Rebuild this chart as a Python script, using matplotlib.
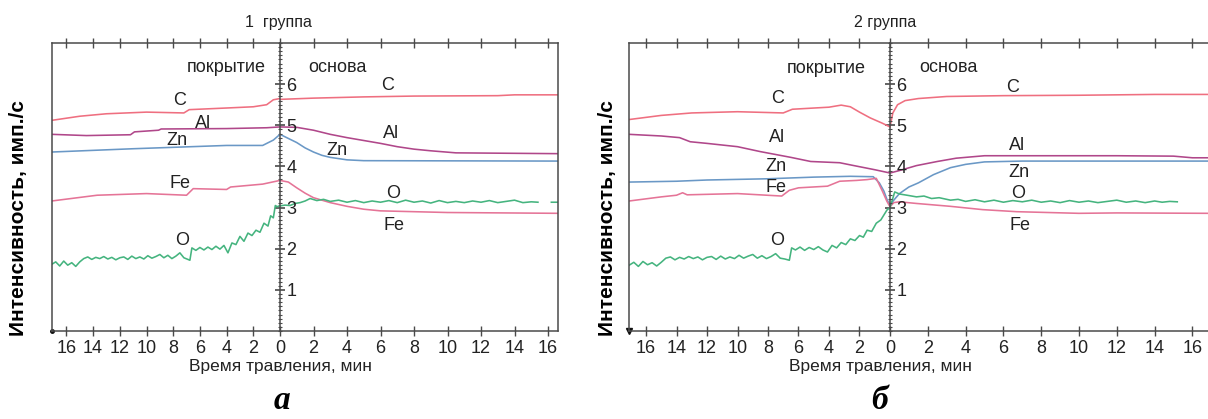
import numpy as np
import matplotlib
matplotlib.use('Agg')
import matplotlib.pyplot as plt
from matplotlib.ticker import MultipleLocator, FixedLocator

plt.rcParams['font.family'] = ['Liberation Sans Narrow', 'Liberation Sans', 'DejaVu Sans']

# ---------------- данные: группа 1 (а) ----------------
# покрытие: время до границы, мин (откладывается влево)
a_C_ct = [17.1, 15.0, 13.0, 10.0, 7.2, 6.8, 4.0, 2.0, 1.0, 0.5, 0.0]
a_C_c = [5.12, 5.22, 5.28, 5.32, 5.30, 5.38, 5.42, 5.45, 5.50, 5.62, 5.65]
a_C_bt = [0.0, 2.0, 5.0, 8.0, 13.0, 14.0, 16.7]
a_C_b = [5.63, 5.66, 5.69, 5.71, 5.72, 5.74, 5.74]

a_Al_ct = [17.1, 14.5, 11.2, 10.9, 9.1, 8.9, 4.0, 1.0, 0.0]
a_Al_c = [4.78, 4.75, 4.77, 4.84, 4.88, 4.91, 4.92, 4.94, 4.96]
a_Al_bt = [0.0, 1.0, 2.0, 3.0, 4.0, 5.0, 6.0, 7.0, 8.0, 9.0, 10.5, 16.7]
a_Al_b = [4.96, 4.95, 4.88, 4.78, 4.70, 4.63, 4.56, 4.48, 4.42, 4.38, 4.33, 4.31]

a_Zn_ct = [17.1, 11.0, 4.0, 1.3, 0.5, 0.0]
a_Zn_c = [4.35, 4.43, 4.51, 4.51, 4.64, 4.78]
a_Zn_bt = [0.0, 0.5, 1.0, 1.5, 2.0, 2.5, 3.0, 4.0, 5.0, 16.7]
a_Zn_b = [4.78, 4.68, 4.58, 4.45, 4.35, 4.27, 4.22, 4.16, 4.14, 4.13]

a_Fe_ct = [17.1, 13.7, 10.0, 7.0, 6.5, 4.0, 3.7, 1.3, 0.0]
a_Fe_c = [3.16, 3.30, 3.34, 3.30, 3.46, 3.44, 3.50, 3.57, 3.66]
a_Fe_bt = [0.0, 0.5, 1.0, 1.5, 2.0, 3.0, 4.0, 5.0, 6.0, 8.0, 10.0, 16.7]
a_Fe_b = [3.66, 3.62, 3.48, 3.35, 3.24, 3.12, 3.03, 2.96, 2.92, 2.90, 2.88, 2.86]

a_O_ct = [17.1, 16.8, 16.5, 16.2, 15.9, 15.6, 15.3, 15.0, 14.7, 14.4, 14.1, 13.8,
          13.5, 13.2, 12.9, 12.6, 12.3, 12.0, 11.7, 11.4, 11.1, 10.8, 10.5, 10.2,
          9.9, 9.6, 9.3, 9.0, 8.7, 8.4, 8.1, 7.8, 7.5, 7.2, 6.9, 6.75, 6.6, 6.3,
          6.0, 5.7, 5.4, 5.1, 4.8, 4.5, 4.2, 3.9, 3.6, 3.3, 3.0, 2.7, 2.4, 2.1,
          1.8, 1.5, 1.2, 0.9, 0.7, 0.5, 0.35, 0.2, 0.0]
a_O_c = [1.62, 1.68, 1.58, 1.70, 1.60, 1.66, 1.57, 1.68, 1.76, 1.80, 1.74, 1.79,
         1.76, 1.81, 1.75, 1.79, 1.73, 1.78, 1.80, 1.74, 1.82, 1.76, 1.80, 1.75,
         1.83, 1.77, 1.81, 1.86, 1.78, 1.84, 1.76, 1.82, 1.90, 1.78, 1.74, 1.72, 2.02, 1.96,
         2.03, 1.97, 2.04, 1.98, 2.06, 1.99, 2.08, 1.90, 2.14, 2.10, 2.30, 2.18, 2.38, 2.32,
         2.45, 2.40, 2.62, 2.55, 2.80, 2.75, 3.05, 3.02, 3.05]
a_O_bt = [0.0, 0.3, 0.6, 0.9, 1.2, 1.5, 1.8, 2.2, 2.6, 3.0, 3.5, 4.0, 4.5, 5.0, 5.5,
          6.0, 6.5, 7.0, 7.5, 8.0, 8.5, 9.0, 9.5, 10.0, 10.5, 11.0, 11.5, 12.0, 12.5,
          13.0, 13.5, 14.0, 14.5, 15.0, 15.4, 15.7, 16.2, 16.6]
a_O_b = [3.04, 3.06, 3.05, 3.10, 3.12, 3.16, 3.22, 3.17, 3.20, 3.15, 3.18, 3.13, 3.17,
         3.12, 3.16, 3.13, 3.17, 3.12, 3.18, 3.13, 3.16, 3.11, 3.17, 3.12, 3.15, 3.12,
         3.16, 3.13, 3.17, 3.12, 3.15, 3.18, 3.12, 3.14, 3.13, np.nan, 3.13, 3.13]

# ---------------- данные: группа 2 (б) ----------------
b_C_ct = [17.1, 15.0, 13.0, 10.0, 7.0, 6.4, 4.0, 3.2, 2.6, 2.0, 1.3, 0.5, 0.0]
b_C_c = [5.14, 5.24, 5.30, 5.33, 5.30, 5.39, 5.44, 5.49, 5.45, 5.32, 5.18, 5.05, 4.96]
b_C_bt = [0.0, 0.15, 0.4, 0.8, 1.5, 3.0, 6.0, 10.0, 14.0, 17.0]
b_C_b = [4.96, 5.30, 5.50, 5.60, 5.65, 5.70, 5.72, 5.73, 5.75, 5.75]

b_Al_ct = [17.1, 15.0, 13.8, 13.1, 12.0, 10.0, 8.5, 6.5, 5.2, 3.3, 2.5, 1.0, 0.0]
b_Al_c = [4.78, 4.74, 4.70, 4.60, 4.56, 4.48, 4.36, 4.22, 4.12, 4.09, 4.03, 3.92, 3.84]
b_Al_bt = [0.0, 0.5, 1.4, 2.5, 3.5, 5.0, 8.0, 12.0, 15.0, 16.0, 17.0]
b_Al_b = [3.84, 3.90, 4.02, 4.12, 4.20, 4.26, 4.26, 4.26, 4.25, 4.21, 4.21]

b_Zn_ct = [17.1, 14.0, 12.0, 8.0, 5.0, 2.6, 1.1, 0.7, 0.4, 0.2, 0.0]
b_Zn_c = [3.62, 3.64, 3.67, 3.70, 3.74, 3.76, 3.75, 3.60, 3.40, 3.20, 3.05]
b_Zn_bt = [0.0, 0.2, 0.5, 1.0, 1.5, 2.3, 3.2, 4.0, 5.0, 7.0, 17.0]
b_Zn_b = [3.05, 3.18, 3.34, 3.50, 3.60, 3.80, 3.97, 4.05, 4.11, 4.13, 4.13]

b_Fe_ct = [17.1, 15.0, 14.0, 13.6, 13.3, 10.0, 7.1, 6.6, 6.0, 4.1, 3.3, 2.2, 1.5, 0.9, 0.5, 0.2, 0.0]
b_Fe_c = [3.16, 3.26, 3.30, 3.36, 3.31, 3.34, 3.28, 3.42, 3.48, 3.52, 3.64, 3.66, 3.68, 3.71, 3.40, 3.15, 3.02]
b_Fe_bt = [0.0, 0.2, 0.5, 1.4, 3.2, 4.9, 6.7, 10.0, 12.0, 17.0]
b_Fe_b = [3.02, 3.12, 3.14, 3.10, 3.03, 2.95, 2.90, 2.86, 2.87, 2.86]

b_O_ct = [17.1, 16.8, 16.5, 16.2, 15.9, 15.6, 15.3, 15.0, 14.7, 14.4, 14.1, 13.8,
          13.5, 13.2, 12.9, 12.6, 12.3, 12.0, 11.7, 11.4, 11.1, 10.8, 10.5, 10.2,
          9.9, 9.6, 9.3, 9.0, 8.7, 8.4, 8.1, 7.8, 7.5, 7.2, 6.9, 6.6, 6.45, 6.2,
          5.9, 5.6, 5.3, 5.0, 4.7, 4.4, 4.1, 3.8, 3.5, 3.2, 2.9, 2.6, 2.3, 2.0,
          1.75, 1.5, 1.2, 0.9, 0.6, 0.4, 0.2, 0.0]
b_O_c = [1.60, 1.67, 1.57, 1.69, 1.61, 1.66, 1.58, 1.67, 1.77, 1.80, 1.73, 1.79,
         1.75, 1.81, 1.76, 1.80, 1.73, 1.79, 1.81, 1.74, 1.82, 1.75, 1.80, 1.76,
         1.84, 1.77, 1.82, 1.86, 1.77, 1.83, 1.76, 1.81, 1.88, 1.77, 1.75, 1.72, 2.02, 1.97,
         2.04, 1.96, 2.03, 1.98, 2.05, 1.97, 1.92, 2.08, 2.02, 2.15, 2.10, 2.24, 2.20, 2.32,
         2.28, 2.45, 2.42, 2.62, 2.70, 2.82, 2.94, 3.00]
b_O_bt = [0.0, 0.25, 0.5, 0.9, 1.4, 1.8, 2.2, 2.6, 3.2, 3.6, 4.0, 4.5, 5.0, 5.5, 6.0,
          6.5, 7.0, 7.5, 8.0, 8.5, 9.0, 9.5, 10.0, 10.5, 11.0, 11.5, 12.0, 12.5, 13.0,
          13.5, 14.0, 14.4, 14.8, 15.2, 15.5, 16.1, 16.4, 17.0]
b_O_b = [3.00, 3.38, 3.33, 3.30, 3.26, 3.28, 3.22, 3.24, 3.18, 3.20, 3.15, 3.19, 3.14,
         3.18, 3.13, 3.17, 3.14, 3.18, 3.13, 3.16, 3.12, 3.17, 3.13, 3.16, 3.12, 3.15,
         3.18, 3.13, 3.16, 3.12, 3.16, 3.13, 3.15, 3.14, np.nan, 3.13, np.nan, 3.13]

elements = ['C', 'Al', 'Zn', 'Fe', 'O']
colors = {'C': '#ef6f80', 'Al': '#b0478a', 'Zn': '#6a98c6', 'Fe': '#e57497', 'O': '#45b47f'}

# подписи кривых: (элемент, время, интенсивность)
a_labels_coat = [('C', 7.5, 5.61), ('Al', 5.8, 5.05), ('Zn', 7.7, 4.64), ('Fe', 7.5, 3.59), ('O', 7.3, 2.21)]
a_labels_base = [('C', 6.4, 5.97), ('Al', 6.6, 4.81), ('Zn', 3.4, 4.39), ('O', 6.75, 3.35), ('Fe', 6.8, 2.57)]
b_labels_coat = [('C', 7.4, 5.66), ('Al', 7.4, 4.71), ('Zn', 7.5, 4.0), ('Fe', 7.5, 3.50), ('O', 7.4, 2.21)]
b_labels_base = [('C', 6.5, 5.92), ('Al', 6.7, 4.51), ('Zn', 6.8, 3.86), ('O', 6.8, 3.35), ('Fe', 6.9, 2.57)]

W, H = 1208, 419
fig = plt.figure(figsize=(W / 100, H / 100), dpi=100)
axis_col = '#4a4a4a'


def panel(x0, xc, x1, kl, kr, d, lab_c, lab_b, right_spine=True, corner='.'):
    y0, y1 = 331, 43
    axr = fig.add_axes([xc / W, 1 - y0 / H, (x1 - xc) / W, (y0 - y1) / H])
    axl = fig.add_axes([x0 / W, 1 - y0 / H, (xc - x0) / W, (y0 - y1) / H])
    for ax in (axl, axr):
        ax.set_facecolor('none')
        ax.set_ylim(0, 7)
        for s in ax.spines.values():
            s.set_color(axis_col)
            s.set_linewidth(1.1)
        ax.tick_params(axis='x', direction='inout', length=7, width=1, colors=axis_col,
                       top=True, labeltop=False, labelsize=13, labelcolor='#222222', pad=3)
    axl.set_xlim((xc - x0) / kl, 0)
    axr.set_xlim(0, (x1 - xc) / kr)
    axl.xaxis.set_major_locator(FixedLocator(np.arange(2, 17, 2)))
    axr.xaxis.set_major_locator(FixedLocator(np.arange(0, 17, 2)))

    # центральная ось интенсивности
    axr.spines['left'].set_visible(False)
    axr.tick_params(axis='y', left=False, labelleft=False)
    if not right_spine:
        axr.spines['right'].set_visible(False)
    axl.yaxis.tick_right()
    axl.yaxis.set_major_locator(FixedLocator(range(1, 7)))
    axl.yaxis.set_minor_locator(MultipleLocator(0.1))
    axl.tick_params(axis='y', which='major', direction='inout', length=7, width=1.2,
                    colors=axis_col, labelsize=13, labelcolor='#222222', pad=1)
    axl.tick_params(axis='y', which='minor', direction='inout', length=3.5, width=0.8, colors=axis_col)

    for el in elements:
        axl.plot(d[el][0], d[el][1], color=colors[el], lw=1.15)
        axr.plot(d[el][2], d[el][3], color=colors[el], lw=1.15)
    for el, t, v in lab_c:
        axl.text(t, v, el, ha='center', va='center', fontsize=13, color='#222222')
    for el, t, v in lab_b:
        axr.text(t, v, el, ha='center', va='center', fontsize=13, color='#222222')
    axl.plot([axl.get_xlim()[0]], [0], marker=corner, color='#111111', ms=5, clip_on=False)
    return axl, axr


data_a = {'C': (a_C_ct, a_C_c, a_C_bt, a_C_b), 'Al': (a_Al_ct, a_Al_c, a_Al_bt, a_Al_b),
          'Zn': (a_Zn_ct, a_Zn_c, a_Zn_bt, a_Zn_b), 'Fe': (a_Fe_ct, a_Fe_c, a_Fe_bt, a_Fe_b),
          'O': (a_O_ct, a_O_c, a_O_bt, a_O_b)}
data_b = {'C': (b_C_ct, b_C_c, b_C_bt, b_C_b), 'Al': (b_Al_ct, b_Al_c, b_Al_bt, b_Al_b),
          'Zn': (b_Zn_ct, b_Zn_c, b_Zn_bt, b_Zn_b), 'Fe': (b_Fe_ct, b_Fe_c, b_Fe_bt, b_Fe_b),
          'O': (b_O_ct, b_O_c, b_O_bt, b_O_b)}

al, ar = panel(52, 280, 558, 13.35, 16.75, data_a, a_labels_coat, a_labels_base)
al.text(4.0, 6.41, 'покрытие', ha='center', va='center', fontsize=13, color='#222222')
ar.text(3.4, 6.41, 'основа', ha='center', va='center', fontsize=13, color='#222222')

bl, br = panel(629, 890, 1212, 15.25, 18.9, data_b, b_labels_coat, b_labels_base,
               right_spine=False, corner='v')
bl.text(4.2, 6.38, 'покрытие', ha='center', va='center', fontsize=13, color='#222222')
br.text(3.07, 6.41, 'основа', ha='center', va='center', fontsize=13, color='#222222')

# заголовки и подписи осей
fig.text(278 / W, 1 - 22 / H, '1  группа', ha='center', va='center', fontsize=11.5, color='#222222')
fig.text(885 / W, 1 - 22 / H, '2 группа', ha='center', va='center', fontsize=11.5, color='#222222')
for xc in (280, 880):
    fig.text(xc / W, 1 - 366 / H, 'Время травления, мин', ha='center', va='center',
             fontsize=12.5, color='#222222')
for xy in ((19, 218), (607, 218)):
    fig.text(xy[0] / W, 1 - xy[1] / H, 'Интенсивность, имп./с', rotation=90, ha='center',
             va='center', fontsize=15, fontweight='bold', family=['Liberation Sans', 'DejaVu Sans'])
fig.text(282 / W, 1 - 400 / H, 'а', ha='center', va='center', fontsize=24,
         fontweight='bold', fontstyle='italic', family=['Liberation Serif', 'DejaVu Serif'])
fig.text(880 / W, 1 - 400 / H, 'б', ha='center', va='center', fontsize=24,
         fontweight='bold', fontstyle='italic', family=['Liberation Serif', 'DejaVu Serif'])

fig.savefig('out.png', dpi=100)
